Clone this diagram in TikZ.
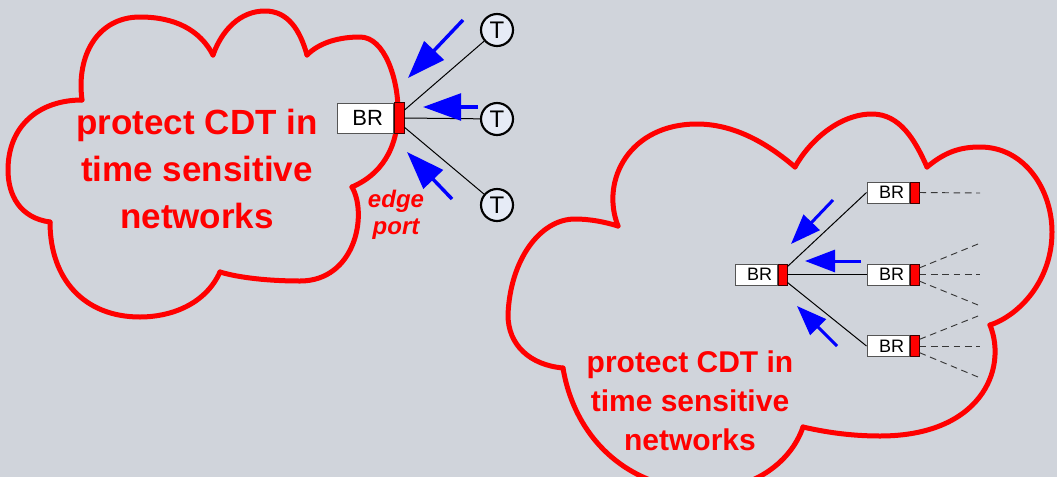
\documentclass[tikz,border=0pt]{standalone}
\usepackage{fontspec}
\setmainfont{Liberation Sans}
\usetikzlibrary{arrows.meta}
\definecolor{bg}{RGB}{208,212,219}
\definecolor{tfill}{RGB}{230,235,246}
\definecolor{boxline}{RGB}{85,85,85}
\definecolor{dashcol}{RGB}{55,55,55}
\definecolor{portline}{RGB}{60,0,0}
\begin{document}
\begin{tikzpicture}[x=0.75pt,y=-0.75pt,
  cloudline/.style={draw=red, line width=3.75pt, line cap=round, line join=round},
  cloudtext/.style={text=red, align=center, inner sep=0pt},
  bigbox/.style={draw=boxline, fill=white, line width=0.75pt, minimum width=42pt, minimum height=22.5pt, inner sep=0pt, font=\fontsize{16.5pt}{18pt}\selectfont},
  bigport/.style={draw=portline, fill=red, line width=0.75pt, minimum width=7.5pt, minimum height=23.25pt, inner sep=0pt},
  smallbox/.style={draw=boxline, fill=white, line width=0.75pt, minimum width=31.5pt, minimum height=15.75pt, inner sep=0pt, font=\fontsize{13.5pt}{15pt}\selectfont},
  smallport/.style={draw=portline, fill=red, line width=0.75pt, minimum width=6.75pt, minimum height=15.75pt, inner sep=0pt},
  tnode/.style={circle, draw=black, line width=1.6pt, fill=tfill, minimum size=24pt, inner sep=0pt, font=\fontsize{18pt}{20pt}\selectfont},
  link/.style={draw=black, line width=0.75pt},
  dlink/.style={draw=dashcol, line width=0.7pt, dash pattern=on 5pt off 3.5pt},
  bigarrow/.style={draw=blue, line width=2.6pt, -{Triangle[length=28.5pt, width=20pt]}, fill=blue},
  smallarrow/.style={draw=blue, line width=2.25pt, -{Triangle[length=22.5pt, width=16.5pt]}, fill=blue}
]
\useasboundingbox (0,0) rectangle (1057,476);
% background
\fill[bg] (-10,-10) rectangle (1067,486);

% left cloud
\draw[cloudline] (82,100) .. controls (76,55) and (98,17) .. (140,17)
  .. controls (175,17) and (200,30) .. (213,55);
\draw[cloudline] (213,55) .. controls (222,30) and (240,11) .. (265,11)
  .. controls (288,11) and (300,30) .. (307,55);
\draw[cloudline] (307,55) .. controls (320,42) and (340,37) .. (360,37)
  .. controls (385,37) and (398,80) .. (398,110)
  .. controls (398,150) and (380,175) .. (352,187);
\draw[cloudline] (352,187) .. controls (368,215) and (355,281) .. (300,281)
  .. controls (270,281) and (240,278) .. (220,272);
\draw[cloudline] (220,272) .. controls (205,305) and (170,317) .. (140,317)
  .. controls (85,317) and (50,280) .. (50,222);
\draw[cloudline] (50,222) .. controls (20,218) and (8,195) .. (8,170)
  .. controls (8,125) and (40,100) .. (82,100);

% right cloud
\draw[cloudline] (618,226) .. controls (600,180) and (630,124) .. (697,124)
  .. controls (740,124) and (775,150) .. (795,167);
\draw[cloudline] (795,167) .. controls (810,140) and (840,114) .. (872,114)
  .. controls (900,114) and (915,140) .. (927,167);
\draw[cloudline] (927,167) .. controls (945,152) and (960,147) .. (980,147)
  .. controls (1025,147) and (1052,190) .. (1052,232)
  .. controls (1052,280) and (1020,315) .. (990,325);
\draw[cloudline] (990,325) .. controls (1008,370) and (980,436) .. (880,436)
  .. controls (850,436) and (825,432) .. (803,427);
\draw[cloudline] (803,427) .. controls (790,465) and (750,490) .. (705,490)
  .. controls (630,490) and (575,440) .. (563,368);
\draw[cloudline] (563,368) .. controls (530,365) and (508,345) .. (508,315)
  .. controls (510,260) and (540,219) .. (575,219)
  .. controls (590,219) and (605,222) .. (618,226);

% cloud texts
\node[cloudtext, font=\fontsize{26.25pt}{35pt}\selectfont\bfseries] (txt1) at (197,169) {protect CDT in\\time sensitive\\networks};
\node[cloudtext, font=\fontsize{22.5pt}{29.25pt}\selectfont\bfseries] (txt2) at (690,400.5) {protect CDT in\\time sensitive\\networks};
\node[cloudtext, font=\fontsize{18pt}{20.5pt}\selectfont\bfseries\itshape] (edge) at (396,215) {edge\\port};

% left group
\node[bigbox] (br1) at (365,118) {\makebox[42pt][r]{BR\hspace{7.5pt}}};
\node[bigport, anchor=west] (p1) at (br1.east) {};
\node[tnode] (t1) at (497,30) {T};
\node[tnode] (t2) at (497,119) {T};
\node[tnode] (t3) at (497,205) {T};
\draw[link] ([yshift=6pt]p1.east) -- (t1);
\draw[link] (p1.east) -- (t2);
\draw[link] ([yshift=-7pt]p1.east) -- (t3);

% right group
\node[smallbox] (c) at (756,274.5) {\makebox[31.5pt][r]{BR\hspace{3.75pt}}};
\node[smallport, anchor=west] (cp) at (c.east) {};
\node[smallbox] (r1) at (888,192.5) {\makebox[31.5pt][r]{BR\hspace{3.75pt}}};
\node[smallport, anchor=west] (r1p) at (r1.east) {};
\node[smallbox] (r2) at (888,274.5) {\makebox[31.5pt][r]{BR\hspace{3.75pt}}};
\node[smallport, anchor=west] (r2p) at (r2.east) {};
\node[smallbox] (r3) at (888,346) {\makebox[31.5pt][r]{BR\hspace{3.75pt}}};
\node[smallport, anchor=west] (r3p) at (r3.east) {};
\draw[link] ([yshift=6pt]cp.east) -- (r1.west);
\draw[link] (cp.east) -- (r2.west);
\draw[link] ([yshift=-6pt]cp.east) -- (r3.west);

% dashed continuations
\coordinate (d1) at (980,193);
\coordinate (d2) at (978,244);
\coordinate (d3) at (980,274.5);
\coordinate (d4) at (978,305);
\coordinate (d5) at (978,316);
\coordinate (d6) at (980,346);
\coordinate (d7) at (978,377);
\draw[dlink] (r1p.east) -- (d1);
\draw[dlink] ([yshift=5pt]r2p.east) -- (d2);
\draw[dlink] (r2p.east) -- (d3);
\draw[dlink] ([yshift=-5pt]r2p.east) -- (d4);
\draw[dlink] ([yshift=5pt]r3p.east) -- (d5);
\draw[dlink] (r3p.east) -- (d6);
\draw[dlink] ([yshift=-5pt]r3p.east) -- (d7);

% blue arrows
\coordinate (a1s) at (463,20);  \coordinate (a1e) at (408,78);
\coordinate (a2s) at (478,107); \coordinate (a2e) at (423,107);
\coordinate (a3s) at (452,199); \coordinate (a3e) at (407,152);
\draw[bigarrow] (a1s) -- (a1e);
\draw[bigarrow] (a2s) -- (a2e);
\draw[bigarrow] (a3s) -- (a3e);
\coordinate (b1s) at (833,200); \coordinate (b1e) at (791,244);
\coordinate (b2s) at (861,261); \coordinate (b2e) at (805,261);
\coordinate (b3s) at (837,346); \coordinate (b3e) at (797,306);
\draw[smallarrow] (b1s) -- (b1e);
\draw[smallarrow] (b2s) -- (b2e);
\draw[smallarrow] (b3s) -- (b3e);
\end{tikzpicture}
\end{document}
